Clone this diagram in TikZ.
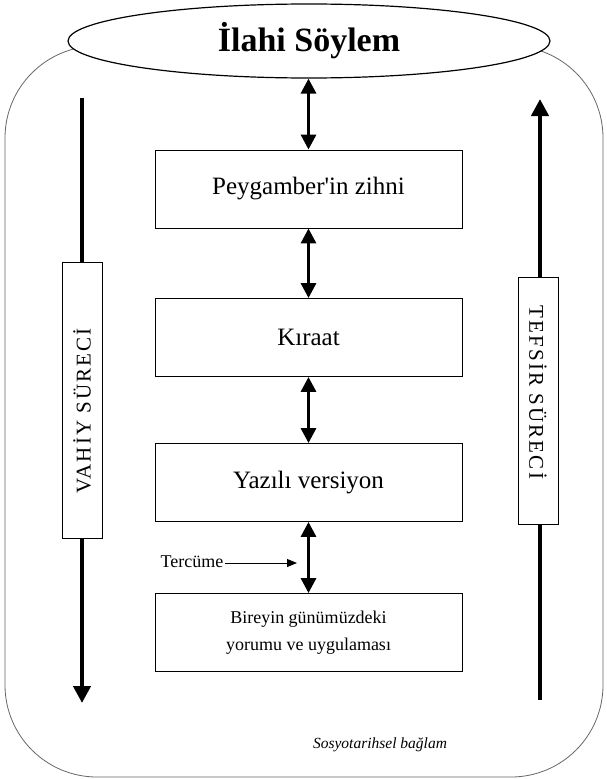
\documentclass[tikz,border=0pt]{standalone}
\usepackage{fontspec}
\setmainfont{Liberation Serif}
\usetikzlibrary{arrows.meta,shapes.geometric}
\begin{document}
\begin{tikzpicture}[x=1pt,y=-1pt,
  stagebox/.style={draw,fill=white,line width=0.9pt,minimum width=307pt,minimum height=78pt,inner sep=0pt,font=\fontsize{25}{28}\selectfont,align=center},
  sidebox/.style={draw,fill=white,line width=0.9pt,minimum height=40pt,inner sep=0pt,font=\addfontfeature{LetterSpace=10}\fontsize{21}{24}\selectfont},
  dblarrow/.style={line width=3.2pt,{Triangle[length=15pt,width=15pt]}-{Triangle[length=15pt,width=15pt]}},
  bigarrow/.style={line width=4.5pt,-{Triangle[length=17pt,width=17pt]}},
  smallarrow/.style={line width=0.9pt,-{Triangle[length=10pt,width=8pt]}}]
\useasboundingbox (0,0) rectangle (606,779);
% outer frame (socio-historical context)
\draw[gray!80!black,line width=0.8pt,rounded corners=92pt] (5,46) rectangle (603,777);
% title ellipse
\node[ellipse,draw,fill=white,line width=1.2pt,minimum width=482pt,minimum height=74pt,inner sep=0pt,font=\bfseries\fontsize{34}{38}\selectfont] (ilahi) at (309,41) {İlahi Söylem};
% central boxes
\node[stagebox] (peygamber) at (308.5,189) {Peygamber\textquotesingle in zihni};
\node[stagebox] (kiraat) at (308.5,337.5) {Kıraat};
\node[stagebox] (yazili) at (308.5,482.5) {Yazılı versiyon};
\node[stagebox,font=\fontsize{18}{27}\selectfont] (bireyin) at (308.5,632.5) {Bireyin günümüzdeki\\yorumu ve uygulaması};
% central double arrows
\draw[dblarrow] (ilahi.south -| peygamber.north) -- (peygamber.north);
\draw[dblarrow] (peygamber.south) -- (kiraat.north);
\draw[dblarrow] (kiraat.south) -- (yazili.north);
\draw[dblarrow] (yazili.south) -- (bireyin.north);
% side process arrows
\coordinate (vtop) at (82,98);
\coordinate (vbot) at (82,703);
\coordinate (tbot) at (540,700);
\coordinate (ttop) at (540,99);
\draw[bigarrow] (vtop) -- (vbot);
\draw[bigarrow] (tbot) -- (ttop);
\node[sidebox,rotate=90,minimum width=276pt] (vahiy) at (82,400) {VAHİY SÜRECİ\hspace*{22pt}};
\node[sidebox,rotate=-90,minimum width=247pt] (tefsir) at (538,400.5) {TEFSİR SÜRECİ\hspace*{16pt}};
% Tercume
\node[font=\fontsize{18}{20}\selectfont,inner sep=1pt] (tercume) at (192,562) {Tercüme};
\coordinate (tend) at (297,563);
\draw[smallarrow] (tercume.east |- tend) -- (tend);
% context label
\node[font=\itshape\fontsize{15.5}{18}\selectfont] (baglam) at (380,745) {Sosyotarihsel bağlam};
\end{tikzpicture}
\end{document}
